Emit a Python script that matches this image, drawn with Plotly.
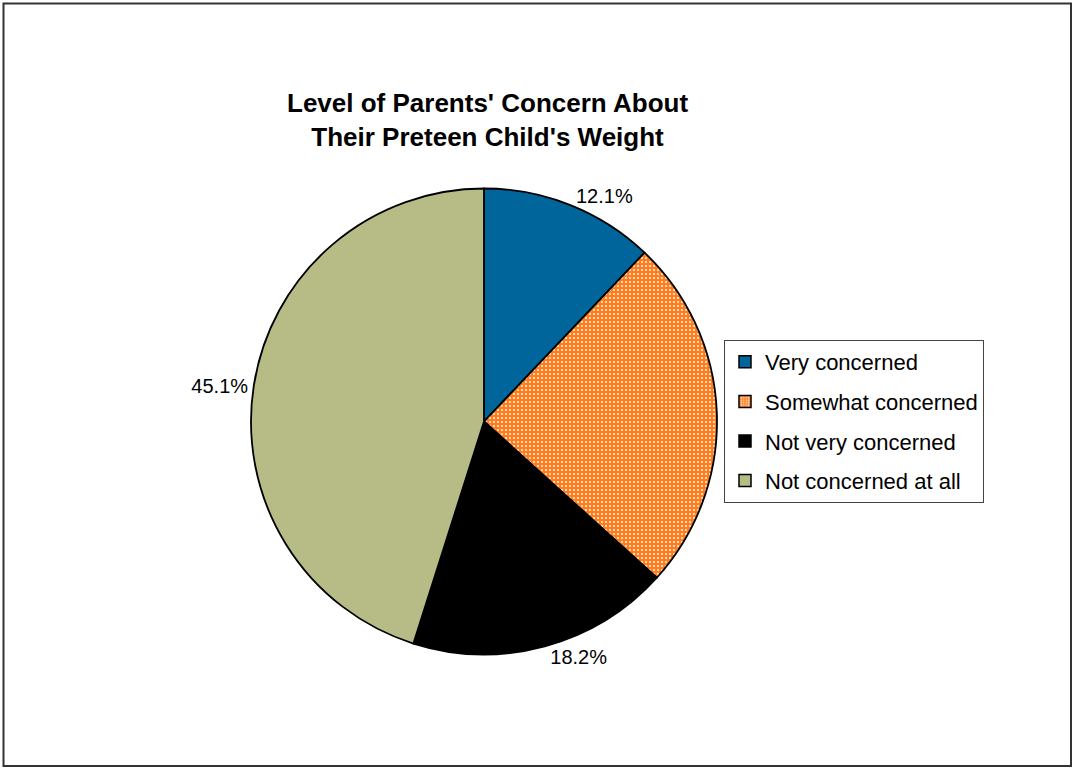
import plotly.graph_objects as go

# Survey results: level of parental concern about a preteen child's weight
categories = ["Very concerned", "Somewhat concerned", "Not very concerned", "Not concerned at all"]
shares = [12.1, 24.6, 18.2, 45.1]
colors = ["#00659A", "#FF7D1E", "#000000", "#B7BC86"]
patterns = ["", ".", "", ""]
show_label = [True, False, True, True]

title_lines = ["Level of Parents' Concern About", "Their Preteen Child's Weight"]

W, H = 1073, 768
FONT = "Liberation Sans, Arial, sans-serif"

fig = go.Figure()

fig.add_trace(go.Pie(
    labels=categories,
    values=shares,
    sort=False,
    direction="clockwise",
    rotation=0,
    marker=dict(
        colors=colors,
        line=dict(color="#000000", width=1.8),
        pattern=dict(shape=patterns, fgcolor="#FFF1E4", bgcolor=colors,
                     fillmode="replace", size=4, solidity=0.22),
    ),
    texttemplate=["%{percent:.1%}" if s else "" for s in show_label],
    textposition="outside",
    textfont=dict(family=FONT, size=20, color="#000000"),
    showlegend=False,
    hoverinfo="label+percent",
    domain=dict(x=[251 / W, 717 / W], y=[1 - 655 / H, 1 - 188 / H]),
))

# Legend entries, one group per category so the rows are evenly spaced
for name, col, pat in zip(categories, colors, patterns):
    fig.add_trace(go.Bar(
        x=[None], y=[None], name=name, legendgroup=name,
        marker=dict(color=col, line=dict(color="#000000", width=1.5),
                    pattern=dict(shape=pat, fgcolor="#FFF1E4", bgcolor=col,
                                 fillmode="replace", size=3, solidity=0.3)),
        showlegend=True, hoverinfo="skip",
    ))

fig.add_annotation(
    x=487 / W, y=1 - 120 / H, xref="paper", yref="paper",
    text="<br>".join(title_lines), showarrow=False,
    font=dict(family=FONT, size=26, color="#000000", weight="bold"),
    xanchor="center", yanchor="middle", align="center",
)

# Chart area frame
fig.add_shape(type="rect", xref="paper", yref="paper",
              x0=3.5 / W, x1=1071 / W, y0=1 - 766 / H, y1=1 - 3.5 / H,
              line=dict(color="#333333", width=2))

fig.update_layout(
    width=W, height=H,
    margin=dict(l=0, r=0, t=0, b=0),
    paper_bgcolor="#FFFFFF", plot_bgcolor="rgba(0,0,0,0)",
    xaxis=dict(visible=False), yaxis=dict(visible=False),
    legend=dict(
        x=724 / W, y=1 - 340 / H, xanchor="left", yanchor="top",
        bordercolor="#444444", borderwidth=1, bgcolor="#FFFFFF",
        font=dict(family=FONT, size=22, color="#000000"),
        tracegroupgap=8, traceorder="grouped",
    ),
)

fig.write_html("out.html")
